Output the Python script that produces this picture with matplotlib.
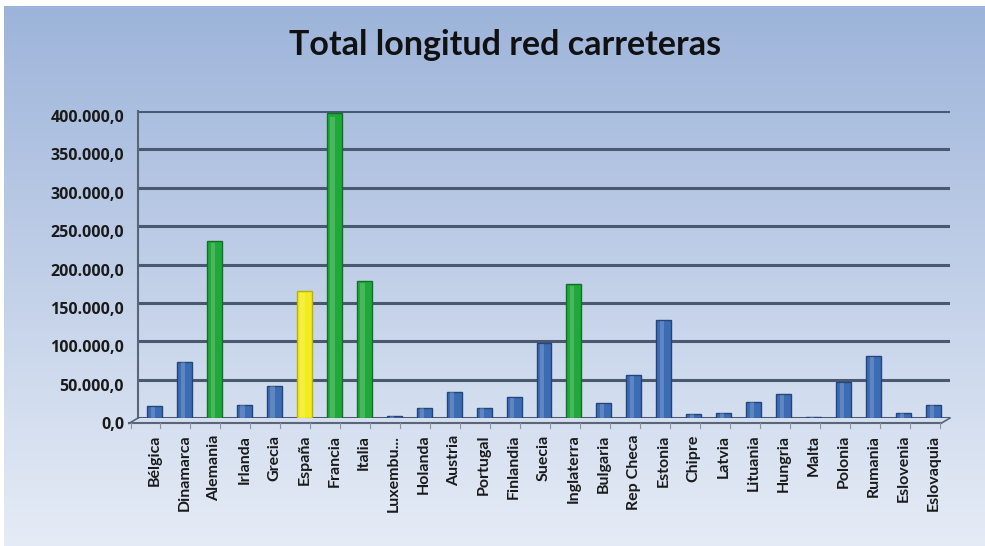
import numpy as np
import matplotlib.pyplot as plt
import matplotlib.transforms as mtransforms
from matplotlib.ticker import FuncFormatter

paises = ["Bélgica", "Dinamarca", "Alemania", "Irlanda", "Grecia", "España",
          "Francia", "Italia", "Luxembu...", "Holanda", "Austria", "Portugal",
          "Finlandia", "Suecia", "Inglaterra", "Bulgaria", "Rep Checa", "Estonia",
          "Chipre", "Latvia", "Lituania", "Hungria", "Malta", "Polonia",
          "Rumania", "Eslovenia", "Eslovaquia"]
longitud = [15000, 73500, 231000, 17000, 42000, 166000,
            398000, 179000, 3000, 12600, 34000, 12600,
            27000, 97500, 175000, 19000, 56000, 128000,
            5000, 7000, 21000, 31000, 1500, 46600,
            81000, 7000, 17000]
grupo = ["b", "b", "g", "b", "b", "y", "g", "g", "b", "b", "b", "b",
         "b", "b", "g", "b", "b", "b", "b", "b", "b", "b", "b", "b",
         "b", "b", "b"]

colores = {"b": "#3c6cb4", "g": "#20a83a", "y": "#f3ec1c"}
bordes = {"b": "#23457a", "g": "#137025", "y": "#b8b010"}

W, H = 985, 546
fig = plt.figure(figsize=(W / 100, H / 100), dpi=100)
fig.patch.set_facecolor("white")

# fondo degradado
bg = fig.add_axes([4 / W, 0, 1 - 4 / W, 1 - 6 / H])
grad = np.linspace(0, 1, 256).reshape(-1, 1)
top = np.array([0.615, 0.706, 0.855])
bottom = np.array([0.90, 0.925, 0.965])
img = top + (bottom - top) * grad[:, :, None]
bg.imshow(img, aspect="auto", extent=[0, 1, 0, 1])
bg.axis("off")

fig.text(505 / W, 1 - 45 / H, "Total longitud red carreteras", ha="center",
         va="center", fontsize=24.5, fontweight="bold", family="Lato",
         color="#111111")

x0, x1 = 138, 950
y0, y1 = 418, 111
ax = fig.add_axes([x0 / W, 1 - y0 / H, (x1 - x0) / W, (y0 - y1) / H])
ax.patch.set_alpha(0)

x = np.arange(len(paises))
for i, v in enumerate(longitud):
    g = grupo[i]
    ax.bar(x[i], v, width=0.5, color=colores[g], edgecolor=bordes[g],
           linewidth=1.0, zorder=3)
    # brillo del cilindro
    ax.bar(x[i] - 0.06, v * 0.985, width=0.14, color="white", alpha=0.18,
           linewidth=0, zorder=4)

ax.set_xlim(-0.55, len(paises) - 0.45)
ax.set_ylim(0, 400000)
ax.set_yticks(np.arange(0, 400001, 50000))
ax.yaxis.set_major_formatter(FuncFormatter(
    lambda v, p: f"{int(v):,}".replace(",", ".") + ",0"))
ax.grid(axis="y", color="#4a5870", linewidth=2.2, zorder=1)
ax.set_axisbelow(True)
for s in ["top", "right", "bottom"]:
    ax.spines[s].set_visible(False)
ax.spines["left"].set_color("#5a6678")
ax.spines["left"].set_linewidth(1.5)

ax.tick_params(axis="y", length=0, pad=10, labelsize=11.5, labelcolor="#1a1a1a")
for lab in ax.get_yticklabels():
    lab.set_fontweight("bold")
    lab.set_family("Open Sans")
    lab.set_transform(lab.get_transform() + mtransforms.ScaledTranslation(
        0, -5 / 100, fig.dpi_scale_trans))

ax.set_xticks(x)
ax.set_xticklabels(paises, rotation=90, fontsize=11.5, fontweight="bold",
                   family="Lato", color="#1a1a1a")
ax.tick_params(axis="x", length=0, pad=12)

# suelo en perspectiva
fx = [-0.85, len(paises) - 0.75]
ax.plot([fx[0], -0.55], [-7000, 0], color="#5a6678", lw=1.2, clip_on=False)
ax.plot(fx, [-7000, -7000], color="#5a6678", lw=1.5, clip_on=False)
ax.plot([fx[1], len(paises) - 0.45], [-7000, 0], color="#5a6678", lw=1.2,
        clip_on=False)
for t in np.arange(-0.5, len(paises), 1.0):
    ax.plot([t - 0.3, t - 0.3], [-7000, -13000], color="#8a96a8", lw=0.8,
            clip_on=False)

fig.savefig("out.png", dpi=100)
